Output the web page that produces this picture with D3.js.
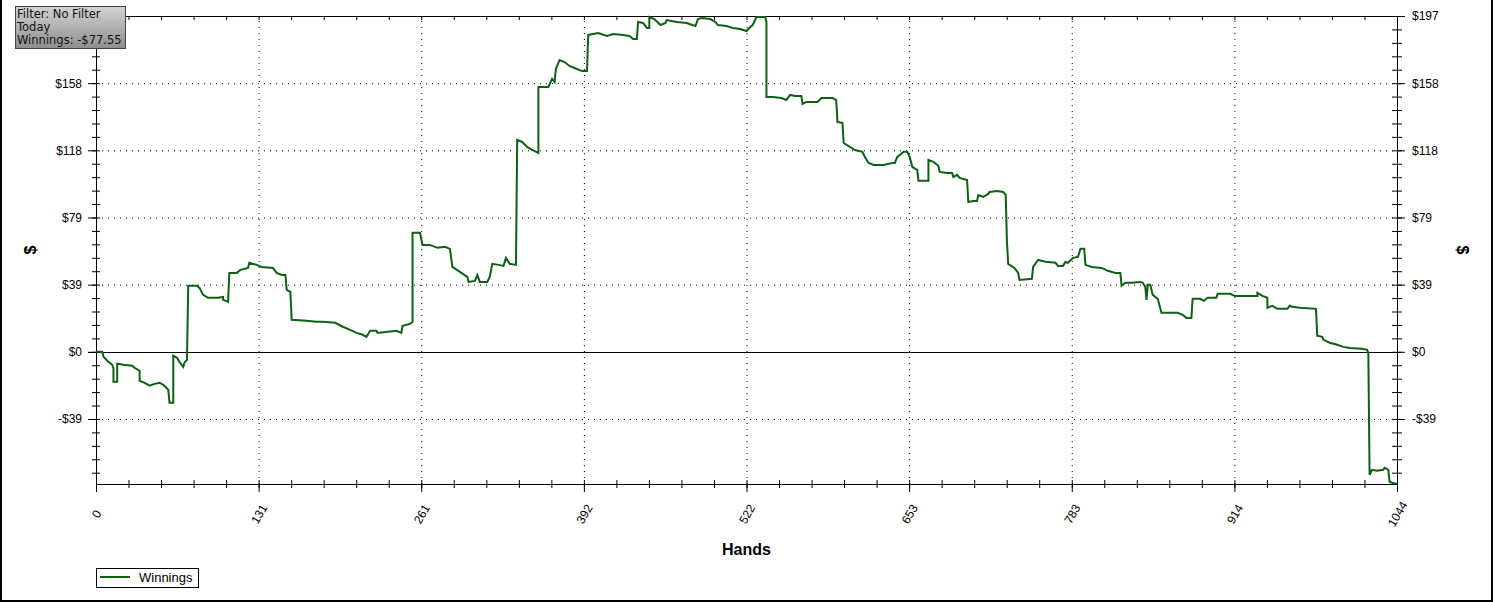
<!DOCTYPE html>
<html>
<head>
<meta charset="utf-8">
<script src="https://cdnjs.cloudflare.com/ajax/libs/d3/7.8.5/d3.min.js"></script>
<style>
  body { margin: 0; background: #fff; }
  svg { display: block; }
</style>
</head>
<body>
<div id="chart"></div>
<script>
// cumulative winnings (hand number, dollars)
const hands = [0,5,6,10,13,14,14,17,17,22,29,31,35,35,39,43,47,51,54,58,59,62,62,65,67,70,71,73,74,81,83,86,90,98,102,102,106,107,113,116,122,123,129,133,142,145,149,152,153,156,157,169,177,182,192,198,204,209,214,217,220,225,226,234,241,245,246,252,254,254,260,262,268,274,280,284,286,292,298,299,304,306,308,314,316,318,323,327,329,332,337,338,342,346,350,355,355,363,366,368,369,372,376,380,384,390,394,395,403,410,415,423,428,431,434,435,439,442,444,444,448,453,457,458,466,474,481,483,486,493,497,499,506,511,517,522,525,527,530,537,538,538,543,550,554,557,561,566,567,570,579,582,591,594,595,599,600,605,609,615,617,620,624,632,639,641,643,645,648,651,653,655,659,660,668,668,672,676,677,683,687,688,691,693,699,700,704,707,708,712,716,717,723,728,730,731,732,737,740,741,751,752,756,762,770,772,776,778,780,784,788,790,793,794,799,807,812,818,822,823,826,831,838,840,842,843,844,846,848,852,855,868,872,875,879,880,886,889,892,899,900,910,914,932,932,936,940,940,944,948,956,958,960,966,979,980,984,985,990,996,1001,1006,1016,1020,1021,1022,1024,1028,1033,1034,1037,1038,1040,1044];
const winnings = [0,0,-2.9,-5.9,-7.6,-9.4,-17.6,-17.6,-7.0,-7.6,-8.2,-9.4,-11.1,-17.0,-18.2,-19.9,-18.8,-18.2,-19.3,-22.3,-29.9,-29.9,-2.3,-3.5,-5.9,-8.8,-6.4,-4.7,38.7,38.7,37.5,33.4,31.7,31.7,32.2,30.5,29.3,46.3,46.3,48.1,49.2,52.2,51.0,49.8,49.2,46.3,45.1,45.1,36.4,35.2,18.8,18.2,17.6,17.6,17.0,14.7,12.9,11.1,10.0,8.8,12.3,12.3,11.1,11.7,12.3,11.1,15.2,16.4,17.6,69.8,69.8,62.7,62.7,61.0,61.6,60.4,49.8,46.9,44.0,41.0,41.6,45.1,41.0,41.0,44.0,51.6,51.0,50.4,55.1,51.6,51.0,124.3,123.1,120.2,118.4,116.7,155.4,155.4,160.1,158.3,165.9,171.2,170.0,167.7,166.5,164.7,164.7,185.9,187.0,185.3,186.4,185.9,185.3,183.5,183.5,193.5,192.9,190.0,190.0,196.4,195.2,191.7,192.9,194.6,193.5,192.9,191.1,195.2,195.8,195.2,193.5,191.7,191.1,190.0,189.4,188.2,190.5,191.7,196.4,196.4,193.5,149.5,149.5,148.9,147.7,150.7,150.1,150.1,145.4,146.6,146.6,148.9,148.9,147.7,134.8,134.3,122.5,120.2,118.4,117.3,114.3,110.8,109.6,109.6,110.8,110.8,114.3,115.5,117.3,117.3,114.3,108.5,106.7,100.3,100.3,112.6,111.4,109.1,105.5,104.9,104.9,102.6,103.8,102.0,100.8,87.9,88.5,88.5,92.0,90.9,92.6,93.8,94.4,93.8,92.0,64.5,51.6,49.2,46.3,42.2,42.8,49.8,53.9,52.8,52.2,50.4,50.4,52.8,52.2,55.1,55.7,60.4,60.4,51.0,49.8,49.2,47.5,46.3,46.3,38.7,40.5,40.5,41.0,40.5,38.1,30.5,39.3,39.3,33.4,31.1,22.9,22.9,21.7,19.9,19.9,31.1,31.1,29.9,31.7,31.7,34.0,34.0,32.8,32.8,34.6,32.8,31.7,25.8,27.0,25.2,25.2,27.0,26.4,25.8,25.2,9.4,8.8,7.0,5.3,4.1,2.9,2.3,1.8,1.2,-0.6,-72.1,-69.2,-69.8,-69.2,-68.0,-69.2,-76.2,-76.8,-77.55];

// axis ticks
const xTicks = [0, 130.5, 261, 391.5, 522, 652.5, 783, 913.5, 1044];
const xTickLabels = ['0', '131', '261', '392', '522', '653', '783', '914', '1044'];
const yTicks = [-39.4, 0, 39.4, 78.8, 118.2, 157.6, 197];
const yTickLabels = ['-$39', '$0', '$39', '$79', '$118', '$158', '$197'];
const yMin = -77.55, yMax = 197;

const infoLines = ['Filter: No Filter', 'Today', 'Winnings: -$77.55'];
const seriesName = 'Winnings';

const W = 1493, H = 602;
const pLeft = 96, pRight = 1397, pTop = 16, pBottom = 484;
const green = '#0f5f14';

const svg = d3.select('#chart').append('svg')
  .attr('width', W)
  .attr('height', H)
  .style('font-family', "'Liberation Sans', Arial, sans-serif");

const x = d3.scaleLinear().domain([0, 1044]).range([pLeft, pRight]);
const y = d3.scaleLinear().domain([yMin, yMax]).range([pBottom, pTop]);

// minor ticks: 5 steps between majors
const xMinor = d3.range(0, 41).map(i => i * 1044 / 40);
const yMinor = d3.range(-9, 26).map(i => i * 197 / 25).filter(v => v >= yMin);

// dotted grid
svg.append('g')
  .attr('class', 'grid')
  .attr('transform', `translate(0, ${pBottom})`)
  .call(d3.axisBottom(x).tickValues(xTicks.slice(1, -1)).tickSize(-(pBottom - pTop)).tickFormat(''));
svg.append('g')
  .attr('class', 'grid')
  .attr('transform', `translate(${pLeft}, 0)`)
  .call(d3.axisLeft(y).tickValues(yTicks.filter(v => v !== 0 && v !== 197)).tickSize(-(pRight - pLeft)).tickFormat(''));
svg.selectAll('.grid path').remove();
svg.selectAll('.grid line')
  .attr('stroke', '#000')
  .attr('stroke-dasharray', '1 5');

// zero line
svg.append('line')
  .attr('x1', pLeft - 8).attr('x2', pRight)
  .attr('y1', Math.round(y(0)) + 0.5).attr('y2', Math.round(y(0)) + 0.5)
  .attr('stroke', '#000');

// frame
svg.append('rect')
  .attr('x', pLeft + 0.5).attr('y', pTop + 0.5)
  .attr('width', pRight - pLeft).attr('height', pBottom - pTop)
  .attr('fill', 'none')
  .attr('stroke', '#000');

function plainAxis(g) {
  g.selectAll('path').remove();
  g.selectAll('line').attr('stroke', '#000');
}

// left axis (its top label sits under the filter box, so it is left out)
svg.append('g').attr('transform', `translate(${pLeft}, 0)`)
  .call(d3.axisLeft(y).tickValues(yMinor).tickSize(4).tickFormat('')).call(plainAxis);
svg.append('g').attr('transform', `translate(${pLeft}, 0)`)
  .call(d3.axisRight(y).tickValues(yMinor).tickSize(4).tickFormat('')).call(plainAxis);
svg.append('g').attr('class', 'ylab').attr('transform', `translate(${pLeft}, 0)`)
  .call(d3.axisLeft(y).tickValues(yTicks.slice(0, -1)).tickSize(8).tickPadding(6)
    .tickFormat((d, i) => yTickLabels[i])).call(plainAxis);

// right axis
svg.append('g').attr('transform', `translate(${pRight}, 0)`)
  .call(d3.axisLeft(y).tickValues(yMinor).tickSize(5).tickFormat('')).call(plainAxis);
svg.append('g').attr('transform', `translate(${pRight}, 0)`)
  .call(d3.axisRight(y).tickValues(yMinor).tickSize(5).tickFormat('')).call(plainAxis);
svg.append('g').attr('class', 'ylab').attr('transform', `translate(${pRight}, 0)`)
  .call(d3.axisRight(y).tickValues(yTicks).tickSize(8).tickPadding(7)
    .tickFormat((d, i) => yTickLabels[i])).call(plainAxis);

svg.selectAll('.ylab text')
  .style('font-size', '12px')
  .attr('fill', '#000');

// bottom axis
svg.append('g').attr('transform', `translate(0, ${pBottom})`)
  .call(d3.axisBottom(x).tickValues(xMinor).tickSize(4).tickFormat('')).call(plainAxis);
svg.append('g').attr('transform', `translate(0, ${pBottom})`)
  .call(d3.axisTop(x).tickValues(xMinor).tickSize(4).tickFormat('')).call(plainAxis);
const xAxis = svg.append('g').attr('transform', `translate(0, ${pBottom})`)
  .call(d3.axisBottom(x).tickValues(xTicks).tickSize(8)
    .tickFormat((d, i) => xTickLabels[i])).call(plainAxis);
xAxis.selectAll('text')
  .attr('y', 0)
  .attr('dy', '0.35em')
  .attr('text-anchor', 'middle')
  .attr('transform', 'translate(0, 30) rotate(-60)')
  .style('font-size', '12px')
  .attr('fill', '#000');

// top ticks
svg.append('g').attr('transform', `translate(0, ${pTop})`)
  .call(d3.axisBottom(x).tickValues(xMinor).tickSize(4).tickFormat('')).call(plainAxis);

// the series
const line = d3.line()
  .x((d, i) => x(hands[i]))
  .y(d => y(d));

svg.append('path')
  .datum(winnings)
  .attr('d', line)
  .attr('fill', 'none')
  .attr('stroke', green)
  .attr('stroke-width', 2)
  .attr('stroke-linejoin', 'miter');

// axis titles
svg.append('text')
  .attr('x', (pLeft + pRight) / 2)
  .attr('y', 555)
  .attr('text-anchor', 'middle')
  .style('font-size', '16px')
  .style('font-weight', 'bold')
  .text('Hands');

svg.append('text')
  .attr('transform', `translate(30, ${(pTop + pBottom) / 2}) rotate(-90)`)
  .attr('text-anchor', 'middle')
  .attr('dy', '0.35em')
  .style('font-size', '16px')
  .style('font-weight', 'bold')
  .text('$');

svg.append('text')
  .attr('transform', `translate(1463, ${(pTop + pBottom) / 2}) rotate(90)`)
  .attr('text-anchor', 'middle')
  .attr('dy', '0.35em')
  .style('font-size', '16px')
  .style('font-weight', 'bold')
  .text('$');

// legend
const legend = svg.append('g');
legend.append('rect')
  .attr('x', 96.5).attr('y', 568.5)
  .attr('width', 102).attr('height', 19)
  .attr('fill', '#fff')
  .attr('stroke', '#000');
legend.append('line')
  .attr('x1', 100).attr('x2', 130)
  .attr('y1', 577).attr('y2', 577)
  .attr('stroke', green)
  .attr('stroke-width', 2);
legend.append('text')
  .attr('x', 139).attr('y', 582)
  .style('font-size', '13px')
  .text(seriesName);

// filter info box
const defs = svg.append('defs');
const grad = defs.append('linearGradient')
  .attr('id', 'boxGrad')
  .attr('x1', '0%').attr('y1', '0%')
  .attr('x2', '0%').attr('y2', '100%');
grad.append('stop').attr('offset', '0%').attr('stop-color', '#d2d2d2');
grad.append('stop').attr('offset', '100%').attr('stop-color', '#8e8e8e');

svg.append('rect')
  .attr('x', 15.5).attr('y', 6.5)
  .attr('width', 110).attr('height', 42)
  .attr('fill', 'url(#boxGrad)')
  .attr('stroke', '#444');

svg.append('g')
  .selectAll('text')
  .data(infoLines)
  .enter()
  .append('text')
  .attr('x', 17)
  .attr('y', (d, i) => 18 + i * 13)
  .style('font-family', "'DejaVu Sans', sans-serif")
  .style('font-size', '11.5px')
  .attr('fill', '#111')
  .text(d => d);

// outer border (left, bottom, right)
svg.append('path')
  .attr('d', `M1,0 V601 H1492 V0`)
  .attr('fill', 'none')
  .attr('stroke', '#000')
  .attr('stroke-width', 2);
</script>
</body>
</html>
